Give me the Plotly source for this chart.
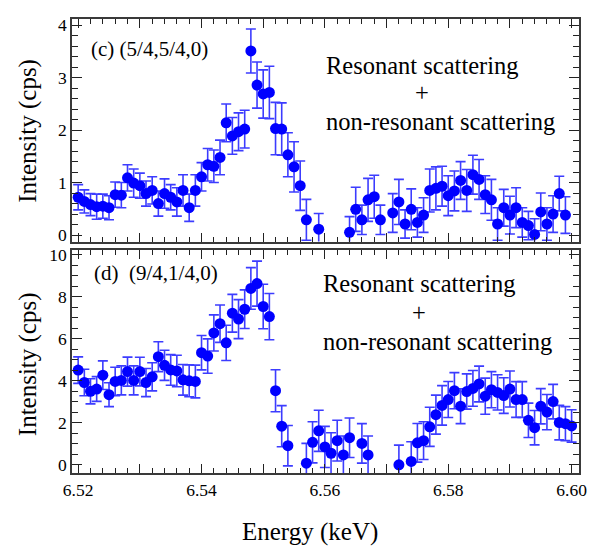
import plotly.graph_objects as go

# ---------------- data ----------------
top_energy = [6.520, 6.521, 6.522, 6.523, 6.524, 6.525, 6.526, 6.527, 6.528, 6.529,
              6.530, 6.531, 6.532, 6.533, 6.534, 6.535, 6.536, 6.537, 6.538, 6.539,
              6.540, 6.541, 6.542, 6.543, 6.544, 6.545, 6.546, 6.547, 6.548, 6.549,
              6.550, 6.551, 6.552, 6.553, 6.554, 6.555, 6.556, 6.557, 6.559,
              6.564, 6.565, 6.566, 6.567, 6.568, 6.569, 6.571, 6.572, 6.573, 6.574,
              6.575, 6.576, 6.577, 6.578, 6.579, 6.580, 6.581, 6.582, 6.583, 6.584,
              6.585, 6.586, 6.587, 6.588, 6.589, 6.590, 6.591, 6.592, 6.593, 6.594,
              6.595, 6.596, 6.597, 6.598, 6.599]
top_intensity = [0.72, 0.64, 0.58, 0.54, 0.55, 0.52, 0.77, 0.76, 1.09, 0.99,
                 0.94, 0.79, 0.85, 0.60, 0.79, 0.72, 0.63, 0.85, 0.52, 0.85,
                 1.11, 1.34, 1.31, 1.48, 2.14, 1.89, 1.97, 2.02, 3.51, 2.86,
                 2.69, 2.72, 2.03, 2.02, 1.53, 1.30, 0.94, 0.29, 0.11,
                 0.05, 0.49, 0.29, 0.67, 0.73, 0.29, 0.42, 0.63, 0.21, 0.49,
                 0.24, 0.38, 0.85, 0.89, 0.93, 0.75, 0.84, 1.04, 0.85, 1.15,
                 1.06, 0.77, 0.67, 0.21, 0.52, 0.38, 0.52, 0.24, 0.18, 0.01,
                 0.44, 0.21, 0.40, 0.79, 0.38]
top_error = [0.24, 0.22, 0.21, 0.24, 0.23, 0.23, 0.24, 0.24, 0.25, 0.27,
             0.24, 0.24, 0.26, 0.24, 0.28, 0.24, 0.27, 0.30, 0.26, 0.30,
             0.27, 0.31, 0.31, 0.33, 0.36, 0.35, 0.36, 0.36, 0.42, 0.44,
             0.46, 0.50, 0.50, 0.50, 0.42, 0.48, 0.47, 0.39, 0.30,
             0.30, 0.42, 0.28, 0.41, 0.41, 0.28, 0.37, 0.43, 0.27, 0.39,
             0.28, 0.33, 0.41, 0.41, 0.38, 0.38, 0.38, 0.36, 0.40, 0.37,
             0.38, 0.36, 0.39, 0.31, 0.35, 0.36, 0.38, 0.28, 0.27, 0.30,
             0.36, 0.31, 0.35, 0.33, 0.35]

bottom_energy = [6.520, 6.521, 6.522, 6.523, 6.524, 6.525, 6.526, 6.527, 6.528, 6.529,
                 6.530, 6.531, 6.532, 6.533, 6.534, 6.535, 6.536, 6.537, 6.538, 6.539,
                 6.540, 6.541, 6.542, 6.543, 6.544, 6.545, 6.546, 6.547, 6.548, 6.549,
                 6.550, 6.551, 6.552, 6.553, 6.554, 6.557, 6.558, 6.559, 6.560, 6.561,
                 6.562, 6.563, 6.564, 6.566, 6.567, 6.572, 6.574, 6.575, 6.576, 6.577,
                 6.578, 6.579, 6.580, 6.581, 6.582, 6.583, 6.584, 6.585, 6.586, 6.587,
                 6.588, 6.589, 6.590, 6.591, 6.592, 6.593, 6.594, 6.595, 6.596, 6.597,
                 6.598, 6.599, 6.600]
bottom_intensity = [4.51, 3.92, 3.50, 3.61, 4.27, 3.34, 3.97, 4.02, 4.44, 4.02,
                    4.44, 3.92, 4.19, 5.15, 4.74, 4.52, 4.47, 4.05, 4.00, 3.97,
                    5.34, 5.18, 6.28, 6.72, 5.81, 7.22, 6.94, 7.41, 8.40, 8.63,
                    7.54, 7.06, 3.53, 1.84, 0.91, 0.08, 1.07, 1.62, 0.85, 0.55,
                    1.15, 0.47, 1.29, 1.02, 0.47, 0.00, 0.16, 1.05, 1.15, 1.81,
                    2.39, 2.83, 3.11, 3.53, 2.79, 3.49, 3.64, 3.85, 3.27, 3.58,
                    3.45, 3.30, 3.61, 3.11, 3.11, 2.12, 1.77, 2.79, 2.51, 3.01,
                    2.01, 1.96, 1.85]
bottom_error = [0.63, 0.63, 0.60, 0.59, 0.68, 0.57, 0.68, 0.69, 0.69, 0.69,
                0.68, 0.67, 0.67, 0.71, 0.72, 0.73, 0.75, 0.73, 0.76, 0.78,
                0.82, 0.82, 0.86, 0.89, 0.84, 0.90, 0.93, 0.92, 0.99, 1.07,
                1.06, 1.10, 1.00, 0.98, 0.96, 0.94, 0.98, 0.98, 0.98, 0.98,
                0.97, 0.90, 0.94, 0.94, 0.90, 0.94, 0.94, 0.92, 0.90, 0.93,
                0.93, 0.94, 0.86, 0.86, 0.83, 0.84, 0.85, 0.85, 0.86, 0.86,
                0.84, 0.85, 0.86, 0.85, 0.85, 0.82, 0.82, 0.84, 0.84, 0.82,
                0.82, 0.81, 0.77]

hidden_x_labels = {"6.53": "", "6.55": "", "6.57": "", "6.59": ""}

# ---------------- style ----------------
OFF = 8                                  # page body margin of the browser
W, H = 597 - OFF, 547 - OFF
# target pixel positions in the window, converted to figure coordinates
L, R, T, B = 72 - OFF, 579 - OFF, 14 - OFF, 473 - OFF
TOP_PANEL = (14 - OFF, 239 - OFF)
BOT_PANEL = (248 - OFF, 473 - OFF)
FONT = "Liberation Serif"
MARKER_COLOR = "#0000ff"
ERR_COLOR = "#3c3cff"


def px_x(px):
    return (px - OFF - L) / (R - L)


def px_y(py):
    return (B - (py - OFF)) / (B - T)


def dom_y(py):
    return (B - py) / (B - T)


fig = go.Figure()

for x, y, e, xa, ya in [(top_energy, top_intensity, top_error, "x", "y"),
                        (bottom_energy, bottom_intensity, bottom_error, "x2", "y2")]:
    fig.add_trace(go.Scatter(
        x=x, y=y, mode="markers", xaxis=xa, yaxis=ya,
        marker=dict(color=MARKER_COLOR, size=11, line=dict(width=0)),
        error_y=dict(type="data", array=e, visible=True, color=ERR_COLOR,
                     thickness=1.6, width=5),
        showlegend=False, cliponaxis=True,
    ))

axis_common = dict(
    showline=True, linecolor="#3a3a3a", linewidth=1.5, mirror="ticks",
    ticks="inside", tickcolor="#222222", tickwidth=1.2,
    showgrid=False, zeroline=False,
    tickfont=dict(family=FONT, size=17.5, color="black"),
)
x_minor = dict(dtick=0.002, tick0=6.52, ticks="inside", ticklen=5,
               tickcolor="#222222", tickwidth=1)

xr = [6.519, 6.6012]
fig.update_layout(
    width=W, height=H,
    margin=dict(l=L, r=W - R, t=T, b=H - B),
    paper_bgcolor="white", plot_bgcolor="white",
    xaxis=dict(axis_common, range=xr, domain=[0, 1], anchor="y",
               tickmode="linear", dtick=0.01, tick0=6.52, ticklen=9,
               showticklabels=False, minor=x_minor),
    xaxis2=dict(axis_common, range=xr, domain=[0, 1], anchor="y2",
                tickmode="linear", dtick=0.01, tick0=6.52, ticklen=9,
                tickformat=".2f", labelalias=hidden_x_labels, minor=x_minor),
    yaxis=dict(axis_common, range=[-0.125, 4.12], anchor="x",
               domain=[dom_y(TOP_PANEL[1]), dom_y(TOP_PANEL[0])],
               dtick=1, tick0=0, ticklen=10,
               minor=dict(dtick=0.2, ticks="inside", ticklen=6,
                          tickcolor="#222222", tickwidth=1)),
    yaxis2=dict(axis_common, range=[-0.39, 10.21], anchor="x2",
                domain=[dom_y(BOT_PANEL[1]), dom_y(BOT_PANEL[0])],
                dtick=2, tick0=0, ticklen=10,
                minor=dict(dtick=0.5, ticks="inside", ticklen=6,
                           tickcolor="#222222", tickwidth=1)),
)


def ann(text, px, py, size, xanchor="left", textangle=0):
    fig.add_annotation(text=text, x=px_x(px), y=px_y(py), xref="paper", yref="paper",
                       xanchor=xanchor, yanchor="middle", showarrow=False,
                       textangle=textangle,
                       font=dict(family=FONT, size=size, color="black"))


# panel (c)
ann("(c) (5/4,5/4,0)", 89, 44, 21)
ann("Resonant scattering", 324, 61, 24.5)
ann("+", 422, 88, 24.5, xanchor="center")
ann("non-resonant scattering", 324, 118, 24.5)
# panel (d)
ann("(d)\u00a0\u00a0(9/4,1/4,0)", 92, 271, 21)
ann("Resonant scattering", 321, 281, 24.5)
ann("+", 419, 311, 24.5, xanchor="center")
ann("non-resonant scattering", 321, 340, 24.5)

# axis titles
ann("Intensity (cps)", 28, 127, 25, xanchor="center", textangle=-90)
ann("Intensity (cps)", 28, 363, 25, xanchor="center", textangle=-90)
ann("Energy (keV)", 310, 533, 25, xanchor="center")

fig.write_html("out.html")
